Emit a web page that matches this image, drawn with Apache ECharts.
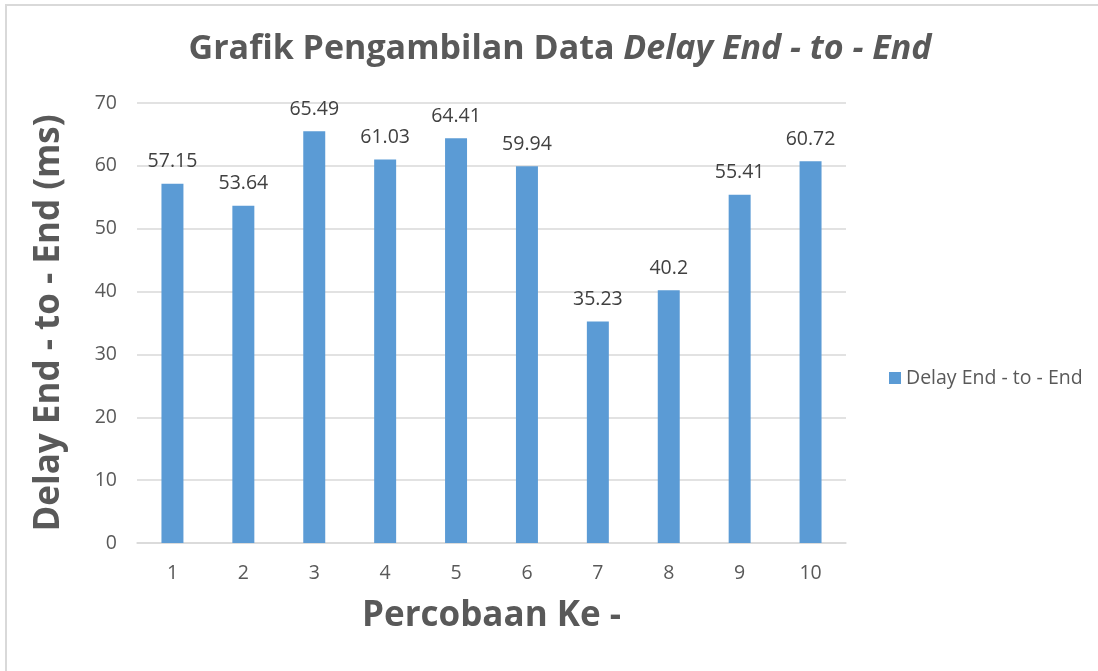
<!DOCTYPE html>
<html>
<head>
<meta charset="utf-8">
<script src="https://cdn.jsdelivr.net/npm/echarts@6/dist/echarts.min.js"></script>
<style>
  html, body { margin: 0; padding: 0; background: #fff; }
  #frame { position: absolute; left: 5px; top: 4px; width: 1100px; height: 680px; border-left: 2px solid #d9d9d9; border-top: 2px solid #d9d9d9; box-sizing: border-box; }
  #chart { position: absolute; left: 0; top: 0; width: 1098px; height: 671px; }
</style>
</head>
<body>
<div id="frame"></div>
<div id="chart"></div>
<script>
const categories = ['1', '2', '3', '4', '5', '6', '7', '8', '9', '10']
const delayValues = [57.15, 53.64, 65.49, 61.03, 64.41, 59.94, 35.23, 40.2, 55.41, 60.72]
const seriesName = 'Delay End - to - End'

const font = '"Open Sans", "Noto Sans", sans-serif'
const chart = echarts.init(document.getElementById('chart'))

chart.setOption({
  animation: false,
  textStyle: { fontFamily: font },
  title: {
    text: '{n|Grafik Pengambilan Data }{i|Delay End - to - End}',
    left: 555, top: 27, textAlign: 'center',
    textStyle: {
      rich: {
        n: { fontFamily: font, fontSize: 34, fontWeight: 'bold', color: '#595959' },
        i: { fontFamily: font, fontSize: 34, fontWeight: 'bold', fontStyle: 'italic', color: '#595959' }
      }
    }
  },
  legend: {
    left: 884, top: 363, orient: 'vertical',
    itemWidth: 12, itemHeight: 12, itemGap: 4,
    icon: 'rect',
    textStyle: { fontFamily: font, fontSize: 19.5, color: '#595959' },
    data: [seriesName]
  },
  grid: { left: 137, right: 252, top: 103, bottom: 128 },
  xAxis: {
    type: 'category', data: categories,
    name: 'Percobaan Ke -', nameLocation: 'middle', nameGap: 56,
    nameTextStyle: { fontFamily: font, fontSize: 35, fontWeight: 'bold', color: '#595959' },
    axisLine: { lineStyle: { color: '#d9d9d9', width: 1.5 } },
    axisTick: { show: false },
    axisLabel: { fontFamily: font, fontSize: 19.5, color: '#595959', margin: 20 }
  },
  yAxis: {
    type: 'value', min: 0, max: 70, interval: 10,
    name: 'Delay End - to - End (ms)', nameLocation: 'middle', nameGap: 70, nameRotate: 90,
    nameTextStyle: { fontFamily: font, fontSize: 35, fontWeight: 'bold', color: '#595959' },
    axisLine: { show: false },
    axisTick: { show: false },
    axisLabel: { fontFamily: font, fontSize: 19.5, color: '#595959', margin: 20 }
  ,
    splitLine: { lineStyle: { color: '#d9d9d9', width: 1.5 } }
  },
  series: [{
    name: seriesName, type: 'bar', data: delayValues,
    barWidth: '31%',
    itemStyle: { color: '#5b9bd5' },
    label: { show: true, position: 'top', distance: 12, fontFamily: font, fontSize: 19.5, color: '#404040' }
  }]
})
</script>
</body>
</html>
